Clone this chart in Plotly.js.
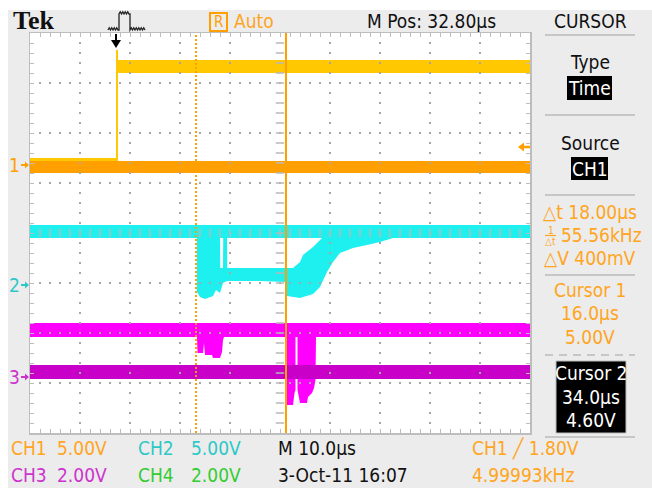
<!DOCTYPE html>
<html>
<head>
<meta charset="utf-8">
<script src="https://cdn.plot.ly/plotly-3.0.1.min.js"></script>
<style>
  html, body { margin: 0; padding: 0; background: #fff; }
  #scope { width: 652px; height: 488px; }
</style>
</head>
<body>
<div id="scope"></div>
<script>
// ---------------- acquisition settings ----------------
const timePerDiv   = 10;      // µs / div
const horizPos     = 32.8;    // µs at screen centre
const triggerTime  = 0;       // µs
const triggerLevel = 1.8;     // V on CH1
const triggerFreq  = '4.99993kHz';
const cursorTimes  = [16.0, 34.0];   // µs
const cursorVolts  = [5.00, 4.60];   // V
const dateStamp    = '3-Oct-11 16:07';

// vertical scale (V/div) and ground marker position (div from centre)
const ch1Scale = 5, ch1Offset = 1.36;
const ch2Scale = 5, ch2Offset = -1.04;
const ch3Scale = 2, ch3Offset = -2.88;
const ch4Scale = 2;

// ---------------- waveform envelopes (time µs, volts) ----------------
// CH1 gate pulse (yellow)
const ch1Time = [-17.2, 0.0, 0.0, 0.4, 0.4, 82.8];
const ch1High = [0.7, 0.7, 11.5, 11.5, 10.5, 10.5];
const ch1Low  = [-0.7, -0.7, -0.7, -0.7, 9.2, 9.2];

// CH1 reference level (orange)
const ch1RefTime = [-17.2, 82.8];
const ch1RefHigh = [0.4, 0.4];
const ch1RefLow  = [-0.8, -0.8];

// CH2 (cyan) idle band
const ch2Time = [-17.2, 82.8];
const ch2High = [6.0, 6.0];
const ch2Low  = [4.7, 4.7];

// CH2 switching excursion: upper and lower edge
const ch2DipTopTime = [16.2, 20.8, 20.85, 21.4, 21.45, 22.2, 22.25, 35.4, 36.8, 37.4, 39.4, 41.4];
const ch2DipTop     = [4.9, 4.9, 1.7, 1.7, 4.9, 4.9, 1.7, 1.7, 2.3, 3.0, 3.8, 4.8];
const ch2DipBotTime = [16.2, 16.8, 17.8, 19.4, 20.0, 20.8, 21.4, 22.2, 28.8, 34.0, 34.2, 36.8, 39.4, 40.8, 42.2, 43.4, 44.8, 47.4, 50.2, 52.8, 55.4];
const ch2DipBot     = [-0.7, -1.2, -1.4, -1.1, -0.5, -0.8, 0.2, 0.4, 0.4, 0.3, -1.1, -1.3, -0.9, -0.2, 1.3, 2.3, 3.2, 3.7, 4.0, 4.3, 4.7];

// CH3 (magenta) with the two switching dips
const ch3TopTime = [-17.2, 82.8];
const ch3Top     = [2.16, 2.16];
const ch3BotTime = [-17.2, 16.2, 16.3, 17.4, 17.6, 17.8, 19.2, 19.4, 20.8, 21.2, 21.4, 21.6, 34.1, 34.2, 35.4, 35.7, 35.9, 35.9, 36.3, 36.3, 36.8, 38.2, 38.4, 39.2, 39.6, 39.9, 40.0, 82.8];
const ch3Bot     = [1.6, 1.6, 0.96, 0.96, 1.36, 0.88, 0.88, 0.76, 0.76, 1.0, 1.48, 1.6, 1.6, -1.12, -1.12, -0.64, -0.52, 1.6, 1.6, -0.52, -1.04, -1.04, -0.8, -0.64, -0.44, -0.12, 1.6, 1.6];

// CH3 reference band (purple)
const ch3RefTime = [-17.2, 82.8];
const ch3RefHigh = [0.48, 0.48];
const ch3RefLow  = [-0.08, -0.08];

// ---------------- colours / fonts ----------------
const YELLOW = '#FFC800', ORANGE = '#FFA000', CYAN = '#1EF0F0', MAGENTA = '#FF00FF', PURPLE = '#C800C8';
const TXT_ORANGE = '#FFA51E', TXT_CYAN = '#2CC8C8', TXT_PURPLE = '#CC33CC', TXT_GREEN = '#33CC33';
const FONT = "'Liberation Sans Narrow', 'DejaVu Sans Condensed', 'Arial Narrow', sans-serif";

// plot-area geometry in page pixels
const L = 30, T = 33, W = 500, H = 400;
const px = x => (x - L) / W;
const py = y => (T + H - y) / H;

const toDiv = (vals, scale, offset) => vals.map(v => v / scale + offset);
const tStart = horizPos - 5 * timePerDiv, tEnd = horizPos + 5 * timePerDiv;

// filled band between an upper and a lower edge
function band(tTop, vTop, tBot, vBot, scale, offset, color) {
  return {
    type: 'scatter', mode: 'lines', hoverinfo: 'skip',
    x: tTop.concat(tBot.slice().reverse()),
    y: toDiv(vTop, scale, offset).concat(toDiv(vBot, scale, offset).reverse()),
    fill: 'toself', fillcolor: color, line: { width: 0, color: color }
  };
}

const traces = [
  band(ch1Time, ch1High, ch1Time, ch1Low, ch1Scale, ch1Offset, YELLOW),
  band(ch1RefTime, ch1RefHigh, ch1RefTime, ch1RefLow, ch1Scale, ch1Offset, ORANGE),
  band(ch2Time, ch2High, ch2Time, ch2Low, ch2Scale, ch2Offset, CYAN),
  band(ch2DipTopTime, ch2DipTop, ch2DipBotTime, ch2DipBot, ch2Scale, ch2Offset, CYAN),
  band(ch3TopTime, ch3Top, ch3BotTime, ch3Bot, ch3Scale, ch3Offset, MAGENTA),
  band(ch3RefTime, ch3RefHigh, ch3RefTime, ch3RefLow, ch3Scale, ch3Offset, PURPLE)
];

// ---------------- graticule: dotted division lines and centre ticks ----------------
const dotX = [], dotY = [];
for (let i = 1; i < 10; i++) {
  if (i === 5) continue;
  const t = tStart + i * timePerDiv;
  for (let k = 1; k < 40; k++) { dotX.push(t); dotY.push(-4 + k * 0.2); }
}
for (let j = 1; j < 8; j++) {
  if (j === 4) continue;
  const d = -4 + j;
  for (let k = 1; k < 50; k++) { dotX.push(tStart + k * timePerDiv / 5); dotY.push(d); }
}
traces.push({
  type: 'scatter', mode: 'markers', hoverinfo: 'skip', x: dotX, y: dotY,
  marker: { symbol: 'square', size: 2, color: '#A6A6A6', line: { width: 0 } }
});
const cvX = [], cvY = [], chX = [], chY = [];
for (let k = 1; k < 40; k++) { cvX.push(horizPos); cvY.push(-4 + k * 0.2); }
for (let k = 1; k < 50; k++) { chX.push(tStart + k * timePerDiv / 5); chY.push(0); }
traces.push({
  type: 'scatter', mode: 'markers', hoverinfo: 'skip', x: cvX, y: cvY,
  marker: { symbol: 'line-ew', size: 6, line: { width: 1.5, color: '#B8B8B8' } }
});
traces.push({
  type: 'scatter', mode: 'markers', hoverinfo: 'skip', x: chX, y: chY,
  marker: { symbol: 'line-ns', size: 6, line: { width: 1.5, color: '#B8B8B8' } }
});

// ---------------- shapes ----------------
const shapes = [];
// white frame strips at the top and left of the screen capture
shapes.push({ type: 'rect', xref: 'paper', yref: 'paper', x0: px(0), x1: px(652), y0: py(0), y1: py(10), fillcolor: '#FFFFFF', line: { width: 0 } });
shapes.push({ type: 'rect', xref: 'paper', yref: 'paper', x0: px(0), x1: px(8), y0: py(0), y1: py(488), fillcolor: '#FFFFFF', line: { width: 0 } });

// cursors
shapes.push({ type: 'line', xref: 'x', yref: 'paper', x0: cursorTimes[0], x1: cursorTimes[0], y0: 0, y1: 1, line: { color: ORANGE, width: 2, dash: '2px,2px' } });
shapes.push({ type: 'line', xref: 'x', yref: 'paper', x0: cursorTimes[1], x1: cursorTimes[1], y0: 0, y1: 1, line: { color: ORANGE, width: 2 } });

// trigger position arrow (top) and trigger level arrow (right)
shapes.push({
  type: 'path', xref: 'x', yref: 'paper', xsizemode: 'pixel', xanchor: triggerTime,
  path: `M-1,${py(34)} L1,${py(34)} L1,${py(40)} L5,${py(40)} L0,${py(48)} L-5,${py(40)} L-1,${py(40)} Z`,
  fillcolor: '#000', line: { width: 0 }
});
shapes.push({
  type: 'path', xref: 'paper', yref: 'y', ysizemode: 'pixel', yanchor: triggerLevel / ch1Scale + ch1Offset,
  path: `M${px(518)},0 L${px(524)},-4.5 L${px(524)},-1.2 L${px(530)},-1.2 L${px(530)},1.2 L${px(524)},1.2 L${px(524)},4.5 Z`,
  fillcolor: ORANGE, line: { width: 0 }
});

// channel ground markers
function groundArrow(offset, color) {
  return {
    type: 'path', xref: 'paper', yref: 'y', ysizemode: 'pixel', yanchor: offset,
    path: `M${px(21)},-1 L${px(25)},-1 L${px(25)},-3.5 L${px(29)},0 L${px(25)},3.5 L${px(25)},1 L${px(21)},1 Z`,
    fillcolor: color, line: { width: 0 }
  };
}
shapes.push(groundArrow(ch1Offset, ORANGE), groundArrow(ch2Offset, TXT_CYAN), groundArrow(ch3Offset, TXT_PURPLE));

// trigger icon in the status bar: pulse with wavy levels
function wiggle(x0, x1, y) {
  let s = '';
  for (let x = x0; x < x1 - 0.1; x += 2.5) s += ` L${px(x + 1.25)},${py(y - 2.2)} L${px(x + 2.5)},${py(y)}`;
  return s;
}
shapes.push({
  type: 'path', xref: 'paper', yref: 'paper',
  path: `M${px(108)},${py(30)}` + wiggle(108, 118, 30) + ` L${px(119)},${py(30)} L${px(119)},${py(14)}` +
        wiggle(119, 129, 14) + ` L${px(130)},${py(14)} L${px(130)},${py(30)}` + wiggle(130, 145, 30),
  line: { color: '#222', width: 1.3 }
});
// "R" status box
shapes.push({ type: 'rect', xref: 'paper', yref: 'paper', x0: px(210), x1: px(227), y0: py(31), y1: py(13), line: { color: ORANGE, width: 2 } });

// side menu separators
[35, 115, 195, 275, 437].forEach(y => shapes.push({
  type: 'line', xref: 'paper', yref: 'paper', x0: px(545), x1: px(635), y0: py(y), y1: py(y), line: { color: '#C6C6C6', width: 2 }
}));
shapes.push({ type: 'line', xref: 'paper', yref: 'paper', x0: px(545), x1: px(635), y0: py(355), y1: py(355), line: { color: '#C6C6C6', width: 2, dash: '8px,6px' } });
// inverted menu fields
shapes.push({ type: 'rect', xref: 'paper', yref: 'paper', x0: px(567), x1: px(612), y0: py(100), y1: py(76), fillcolor: '#000', line: { width: 0 } });
shapes.push({ type: 'rect', xref: 'paper', yref: 'paper', x0: px(571), x1: px(608), y0: py(180), y1: py(157), fillcolor: '#000', line: { width: 0 } });
shapes.push({ type: 'rect', xref: 'paper', yref: 'paper', x0: px(556), x1: px(626), y0: py(433), y1: py(361), fillcolor: '#000', line: { color: '#BDBDBD', width: 1 } });
// 1/Δt fraction bar
shapes.push({ type: 'line', xref: 'paper', yref: 'paper', x0: px(545), x1: px(556), y0: py(235.5), y1: py(235.5), line: { color: TXT_ORANGE, width: 1.2 } });

// ---------------- text ----------------
function label(text, x, y, color, size, anchor, family) {
  return {
    text: text, xref: 'paper', yref: 'paper', x: px(x), y: py(y),
    xanchor: anchor || 'center', yanchor: 'middle', showarrow: false, borderpad: 0,
    font: { family: family || FONT, size: size || 19, color: color || '#000' }
  };
}
function gndLabel(txt, offset, color) {
  return {
    text: txt, xref: 'paper', yref: 'y', x: px(14), y: offset, xanchor: 'center', yanchor: 'middle',
    showarrow: false, borderpad: 0, font: { family: FONT, size: 19, color: color }
  };
}
const us = v => v.toFixed(1) + 'µs';
const dt = cursorTimes[1] - cursorTimes[0];
const dv = Math.abs(cursorVolts[0] - cursorVolts[1]);
const annotations = [
  label('<b>Tek</b>', 33, 20, '#111', 26, 'center', "'Liberation Serif', 'DejaVu Serif', serif"),
  label('R', 218.5, 22, ORANGE, 15),
  label('Auto', 254, 21, TXT_ORANGE, 19),
  label('M Pos: ' + horizPos.toFixed(2) + 'µs', 431, 21, '#111', 19),
  label('CURSOR', 590, 21, '#111', 19),
  label('Type', 590, 62, '#111', 19),
  label('Time', 589.5, 88, '#FFF', 19),
  label('Source', 590, 143, '#111', 19),
  label('CH1', 589.5, 168.5, '#FFF', 19),
  label('△t ' + dt.toFixed(2) + 'µs', 590, 212, TXT_ORANGE, 19),
  label('1', 550.5, 230, TXT_ORANGE, 10),
  label('△t', 550.5, 241, TXT_ORANGE, 10),
  label((1000 / dt).toFixed(2) + 'kHz', 601, 235, TXT_ORANGE, 19),
  label('△V ' + Math.round(dv * 1000) + 'mV', 590, 258, TXT_ORANGE, 19),
  label('Cursor 1', 590, 290, TXT_ORANGE, 19),
  label(us(cursorTimes[0]), 590, 313, TXT_ORANGE, 19),
  label(cursorVolts[0].toFixed(2) + 'V', 590, 337, TXT_ORANGE, 19),
  label('Cursor 2', 591, 373, '#FFF', 19),
  label(us(cursorTimes[1]), 591, 397, '#FFF', 19),
  label(cursorVolts[1].toFixed(2) + 'V', 591, 420, '#FFF', 19),
  // bottom readout
  label('CH1', 10, 448, TXT_ORANGE, 19, 'left'),
  label(ch1Scale.toFixed(2) + 'V', 56, 448, TXT_ORANGE, 19, 'left'),
  label('CH2', 137, 448, TXT_CYAN, 19, 'left'),
  label(ch2Scale.toFixed(2) + 'V', 190, 448, TXT_CYAN, 19, 'left'),
  label('M ' + us(timePerDiv), 277, 448, '#111', 19, 'left'),
  label('CH1 ╱ ' + triggerLevel.toFixed(2) + 'V', 471, 448, TXT_ORANGE, 19, 'left'),
  label('CH3', 10, 475, TXT_PURPLE, 19, 'left'),
  label(ch3Scale.toFixed(2) + 'V', 56, 475, TXT_PURPLE, 19, 'left'),
  label('CH4', 137, 475, TXT_GREEN, 19, 'left'),
  label(ch4Scale.toFixed(2) + 'V', 190, 475, TXT_GREEN, 19, 'left'),
  label(dateStamp, 277, 475, '#111', 19, 'left'),
  label(triggerFreq, 471, 475, TXT_ORANGE, 19, 'left'),
  // ground markers
  gndLabel('1', ch1Offset, ORANGE),
  gndLabel('2', ch2Offset, TXT_CYAN),
  gndLabel('3', ch3Offset, TXT_PURPLE)
];

const layout = {
  width: 652, height: 488,
  margin: { l: L, r: 652 - L - W, t: T, b: 488 - T - H, pad: 0 },
  paper_bgcolor: '#ECECEC', plot_bgcolor: '#FFFFFF',
  showlegend: false,
  xaxis: {
    range: [tStart, tEnd], showgrid: false, zeroline: false, showticklabels: false,
    showline: true, linecolor: '#BDBDBD', linewidth: 1.5, mirror: 'allticks',
    ticks: 'inside', ticklen: 4, tickwidth: 1, tickcolor: '#BDBDBD',
    tick0: tStart, dtick: timePerDiv / 5, layer: 'above traces', fixedrange: true
  },
  yaxis: {
    range: [-4, 4], showgrid: false, zeroline: false, showticklabels: false,
    showline: true, linecolor: '#BDBDBD', linewidth: 1.5, mirror: 'allticks',
    ticks: 'inside', ticklen: 4, tickwidth: 1, tickcolor: '#BDBDBD',
    tick0: -4, dtick: 0.2, layer: 'above traces', fixedrange: true
  },
  shapes: shapes,
  annotations: annotations
};

Plotly.newPlot('scope', traces, layout, { staticPlot: true, displayModeBar: false });
</script>
</body>
</html>
